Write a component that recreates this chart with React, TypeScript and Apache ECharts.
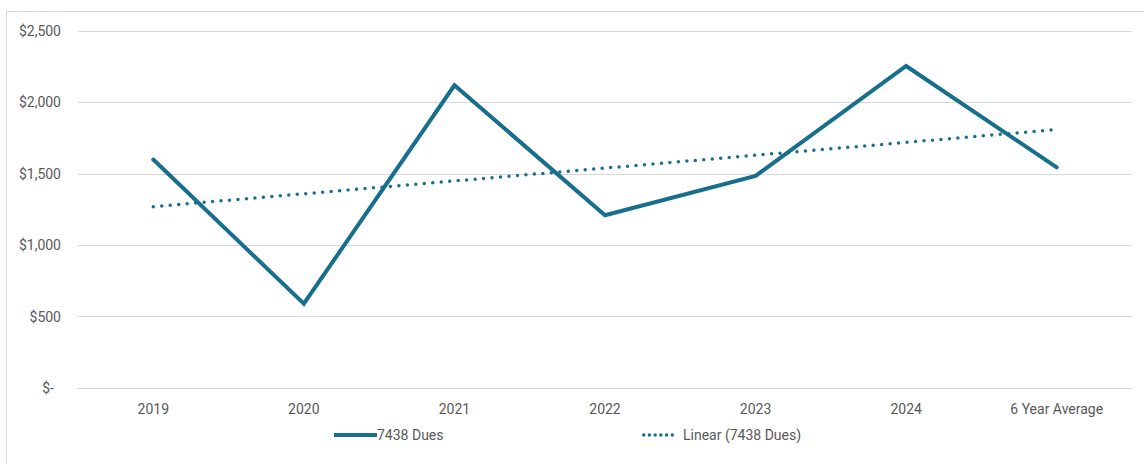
import React, { useEffect, useRef } from "react";
import * as echarts from "echarts";

const categories = ["2019", "2020", "2021", "2022", "2023", "2024", "6 Year Average"];
const duesValues = [1600, 590, 2120, 1210, 1485, 2255, 1545];
const trendValues = [1270, 1360, 1450, 1540, 1630, 1720, 1810];
const yTicks = [0, 500, 1000, 1500, 2000, 2500];

const LINE_COLOR = "#176E8D";
const TEXT_COLOR = "#595959";
const GRID_COLOR = "#D9D9D9";
const FONT = "Roboto, 'Noto Sans', sans-serif";

// six round dots in a row, used as the trendline's legend key
const DOTS_ICON =
  "path://" +
  [0, 1, 2, 3, 4, 5]
    .map((i) => {
      const cx = 1.75 + i * 5.7;
      return `M${cx - 1.75},1.75 a1.75,1.75 0 1,0 3.5,0 a1.75,1.75 0 1,0 -3.5,0 Z`;
    })
    .join(" ");

function formatDollar(v: number): string {
  if (v === 0) return "{z|$-}";
  return "$" + v.toLocaleString("en-US");
}

export default function App() {
  const ref = useRef<HTMLDivElement>(null);

  useEffect(() => {
    if (!ref.current) return;
    const chart = echarts.init(ref.current, null, { renderer: "svg" });
    chart.setOption({
      animation: false,
      backgroundColor: "#ffffff",
      textStyle: { fontFamily: FONT },
      graphic: [
        {
          type: "rect",
          shape: { x: 6.5, y: 11.5, width: 1300, height: 600 },
          style: { fill: "none", stroke: GRID_COLOR, lineWidth: 1 },
          silent: true,
          z: -10,
        },
      ],
      grid: { left: 78, right: 12, top: 31, bottom: 76 },
      legend: [
        {
          data: [{ name: "7438 Dues", icon: "rect" }],
          left: 329,
          top: 423,
          itemWidth: 43,
          itemHeight: 4,
          textStyle: { color: TEXT_COLOR, fontSize: 14, fontFamily: FONT, padding: [0, 0, 0, -5] },
          itemStyle: { color: LINE_COLOR },
          selectedMode: false,
        },
        {
          data: [{ name: "Linear (7438 Dues)", icon: DOTS_ICON }],
          left: 637,
          top: 423,
          itemWidth: 32,
          itemHeight: 3.5,
          textStyle: { color: TEXT_COLOR, fontSize: 14, fontFamily: FONT, padding: [0, 0, 0, 4] },
          itemStyle: { color: LINE_COLOR },
          selectedMode: false,
        },
      ],
      xAxis: {
        type: "category",
        data: categories,
        boundaryGap: true,
        axisLine: { show: true, lineStyle: { color: GRID_COLOR, width: 1 } },
        axisTick: { show: false },
        axisLabel: { color: TEXT_COLOR, fontSize: 14, fontFamily: FONT, margin: 14, interval: 0 },
      },
      yAxis: {
        type: "value",
        min: yTicks[0],
        max: yTicks[yTicks.length - 1],
        interval: yTicks[1] - yTicks[0],
        axisLine: { show: false },
        axisTick: { show: false },
        splitLine: { lineStyle: { color: GRID_COLOR, width: 1 } },
        axisLabel: {
          color: TEXT_COLOR,
          fontSize: 14,
          fontFamily: FONT,
          margin: 17,
          formatter: (v: number) => formatDollar(v),
          rich: { z: { color: TEXT_COLOR, fontSize: 14, fontFamily: FONT, padding: [0, 7, 0, 0] } },
        },
      },
      series: [
        {
          name: "7438 Dues",
          type: "line",
          data: duesValues,
          symbol: "none",
          lineStyle: { color: LINE_COLOR, width: 4, cap: "round", join: "miter" },
          itemStyle: { color: LINE_COLOR },
          z: 3,
        },
        {
          name: "Linear (7438 Dues)",
          type: "line",
          data: trendValues,
          symbol: "none",
          lineStyle: { color: LINE_COLOR, width: 3.5, type: [0, 8.5], cap: "round" },
          itemStyle: { color: LINE_COLOR },
          z: 2,
        },
      ],
    });
    return () => chart.dispose();
  }, []);

  return (
    <div
      ref={ref}
      style={{ position: "fixed", left: 0, top: 0, width: 1144, height: 464 }}
    />
  );
}
